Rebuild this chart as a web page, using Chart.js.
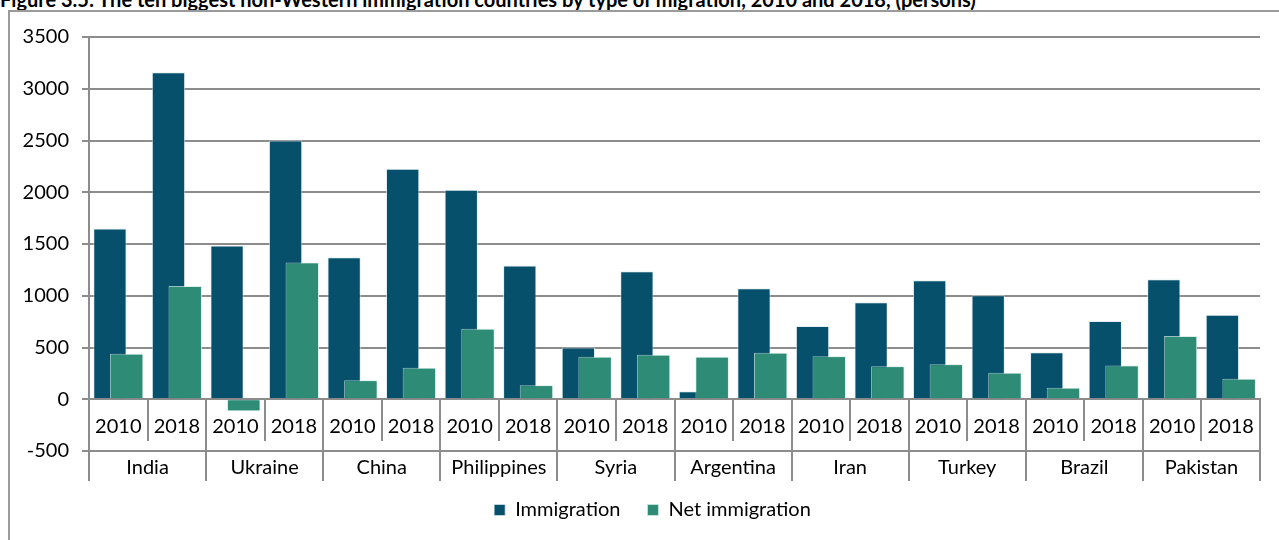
<!DOCTYPE html>
<html>
<head>
<meta charset="utf-8">
<script src="https://cdn.jsdelivr.net/npm/chart.js@4/dist/chart.umd.min.js"></script>
<style>
  html, body { margin: 0; padding: 0; background: #fff; overflow: hidden; }
  body { width: 1279px; height: 540px; position: relative; font-family: Lato, sans-serif; }
  #title {
    position: absolute; left: 0; top: -13px;
    font: bold 20px/1.2 Lato, sans-serif; color: #000; white-space: nowrap;
  }
  #frame {
    position: absolute; left: 8px; top: 10px; width: 1300px; height: 560px;
    border: 2px solid #9a9a9a;
  }
  #wrap { position: absolute; left: 0; top: 0; width: 1279px; height: 540px; }
</style>
</head>
<body>
<div id="title">Figure 3.5: The ten biggest non-Western immigration countries by type of migration, 2010 and 2018, (persons)</div>
<div id="frame"></div>
<div id="wrap"><canvas id="chart"></canvas></div>
<script>
// chart data
const countries = ['India', 'Ukraine', 'China', 'Philippines', 'Syria', 'Argentina', 'Iran', 'Turkey', 'Brazil', 'Pakistan'];
const years = ['2010', '2018'];
// one value per country and year, in the order India 2010, India 2018, Ukraine 2010 ...
const immigration = [1650, 3160, 1485, 2500, 1372, 2227, 2025, 1292, 501, 1237, 77, 1073, 707, 938, 1150, 1005, 453, 755, 1160, 816];
const netImmigration = [440, 1093, -115, 1321, 183, 305, 681, 135, 411, 431, 411, 450, 415, 318, 337, 257, 112, 325, 611, 199];
const yTicks = [-500, 0, 500, 1000, 1500, 2000, 2500, 3000, 3500];

const categories = countries.flatMap(() => years);

const gridGrey = '#8c8c8c';
const font = { family: 'Lato', size: 20 };

// Net immigration bars are drawn over the immigration bars, like the Excel overlap
const netOnTop = {
    id: 'netOnTop',
    afterDatasetsDraw(chart) {
        chart.getDatasetMeta(1).controller.draw();
    }
};

// nudge the legend sideways, it is centred under the whole frame in the original
const legendShift = {
    id: 'legendShift',
    afterLayout(chart, args, opts) {
        chart.legend.left += opts.x;
        chart.legend.right += opts.x;
    }
};

Chart.defaults.font = font;
Chart.defaults.color = '#000';

new Chart(document.getElementById('chart'), {
    type: 'bar',
    data: {
        labels: categories,
        datasets: [{
            label: 'Immigration',
            data: immigration,
            backgroundColor: '#07506C',
            borderColor: 'rgba(215,232,238,0.7)',
            borderWidth: 1,
            xAxisID: 'x',
            categoryPercentage: 0.57,
            barPercentage: 2.0
        }, {
            label: 'Net immigration',
            data: netImmigration,
            backgroundColor: '#2D8B76',
            borderColor: 'rgba(215,238,230,0.7)',
            borderWidth: 1,
            xAxisID: 'x',
            categoryPercentage: 0.57,
            barPercentage: 2.0
        }]
    },
    options: {
        responsive: true,
        maintainAspectRatio: false,
        animation: false,
        layout: { padding: { left: 0, right: 19, top: 37, bottom: 10 } },
        plugins: {
            title: { display: false },
            tooltip: { enabled: false },
            legend: {
                position: 'bottom',
                fullSize: false,
                labels: {
                    font: font,
                    color: '#000',
                    boxWidth: 11,
                    boxHeight: 11,
                    padding: 27
                }
            },
            legendShift: { x: -22 }
        },
        scales: {
            y: {
                min: -500,
                max: 3500,
                afterFit(scale) { scale.width = 89; },
                afterBuildTicks(scale) { scale.ticks = yTicks.map(v => ({ value: v })); },
                ticks: { padding: 13, font: font, color: '#000', callback: v => String(v) },
                grid: { color: gridGrey, lineWidth: 2, tickLength: 7, tickColor: gridGrey },
                border: { color: gridGrey, width: 2 }
            },
            // years, hanging from the zero line
            x: {
                type: 'category',
                position: { y: 0 },
                offset: true,
                ticks: { padding: -25.3, font: font, color: '#000', autoSkip: false, maxRotation: 0 },
                grid: { offset: true, drawOnChartArea: false, tickLength: 41, color: gridGrey, lineWidth: 2 },
                border: { color: gridGrey, width: 2 }
            },
            // country names and separators, from the zero line down past -500
            xCountry: {
                type: 'category',
                labels: countries,
                position: { y: 0 },
                offset: true,
                ticks: { padding: -26, font: font, color: '#000', autoSkip: false, maxRotation: 0 },
                grid: { offset: true, drawOnChartArea: false, tickLength: 82, color: gridGrey, lineWidth: 2 },
                border: { display: false }
            },
            // empty axis that only keeps room between the plot and the legend
            xSpace: {
                type: 'category',
                labels: countries,
                position: 'bottom',
                afterFit(scale) { scale.height = 22; },
                ticks: { display: false },
                grid: { display: false },
                border: { display: false }
            }
        }
    },
    plugins: [netOnTop, legendShift]
});
</script>
</body>
</html>
